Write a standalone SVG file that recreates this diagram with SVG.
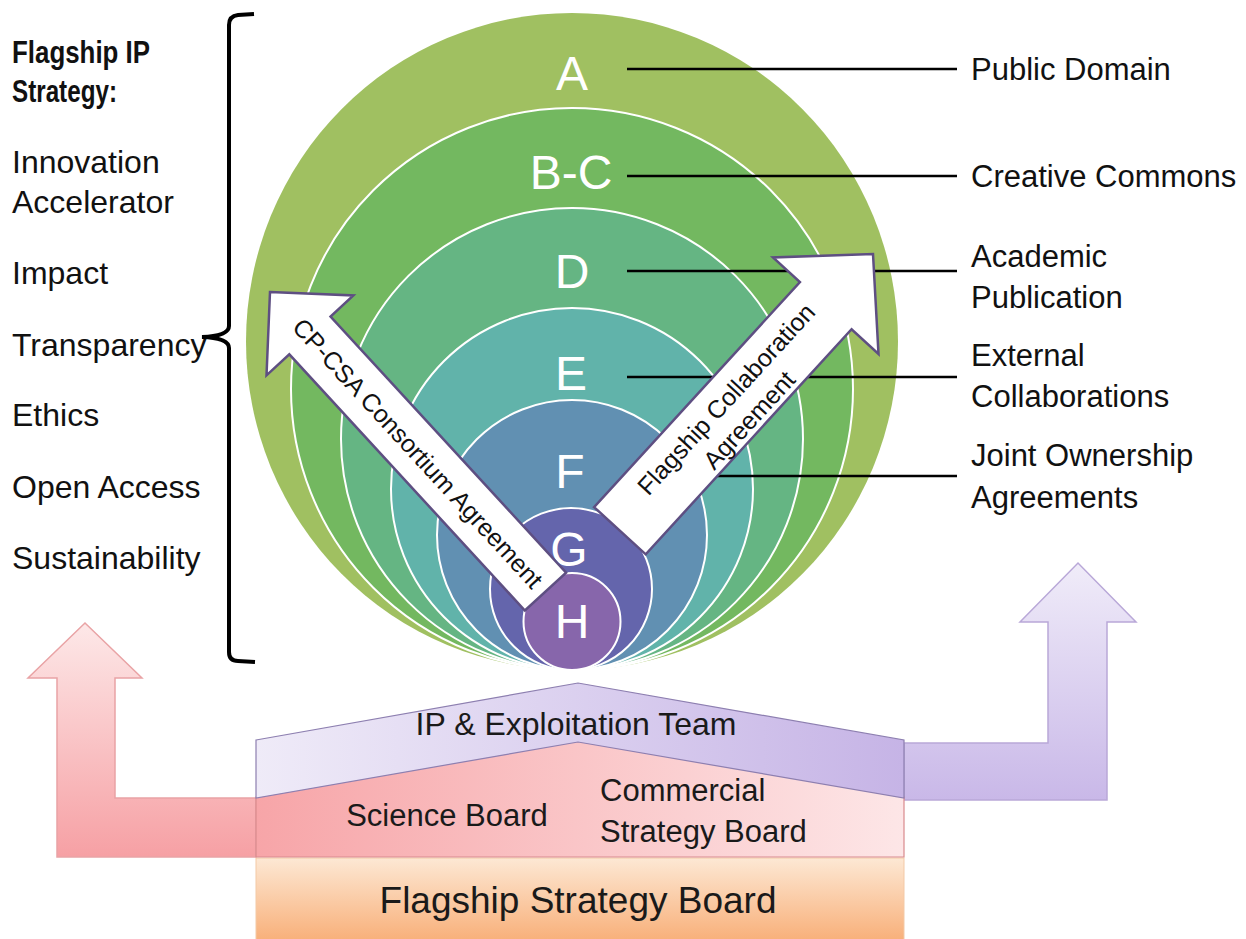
<svg xmlns="http://www.w3.org/2000/svg" width="1246" height="939" viewBox="0 0 1246 939">
<defs>
<linearGradient id="gPinkArrow" x1="0" y1="0" x2="0" y2="1"><stop offset="0" stop-color="#fde8e8"/><stop offset="1" stop-color="#f6a0a4"/></linearGradient>
<linearGradient id="gPurpleArrow" x1="0" y1="0" x2="0" y2="1"><stop offset="0" stop-color="#f0ecf9"/><stop offset="1" stop-color="#c9b8e8"/></linearGradient>
<linearGradient id="gPinkBoard" x1="0" y1="0" x2="1" y2="0"><stop offset="0" stop-color="#f7a5a8"/><stop offset="1" stop-color="#fde6e7"/></linearGradient>
<linearGradient id="gPurpleBand" x1="0" y1="0" x2="1" y2="0"><stop offset="0" stop-color="#efebf8"/><stop offset="1" stop-color="#c6b4e6"/></linearGradient>
<linearGradient id="gOrange" x1="0" y1="0" x2="0" y2="1"><stop offset="0" stop-color="#fde8d4"/><stop offset="1" stop-color="#f8b07a"/></linearGradient>
<style>
.lbl{font-family:"Liberation Sans",Arial,sans-serif;font-size:32px;fill:#111}
.rl{font-family:"Liberation Sans",Arial,sans-serif;font-size:31px;fill:#111}
.ring{stroke:#ffffff;stroke-width:2}
.cl{font-family:"Liberation Sans",Arial,sans-serif;font-size:48px;fill:#ffffff;text-anchor:middle}
.lead{stroke:#000;stroke-width:2.5;fill:none}
.arr{fill:#ffffff;stroke:#5e4f82;stroke-width:2.5;stroke-linejoin:miter}
.at{font-family:"Liberation Sans",Arial,sans-serif;font-size:25px;fill:#111;text-anchor:middle}
.bt{font-family:"Liberation Sans",Arial,sans-serif;font-size:31px;fill:#1a1a1a}
.bt-big{font-family:"Liberation Sans",Arial,sans-serif;font-size:37px;fill:#1a1a1a;text-anchor:middle}
.bt-ip{font-family:"Liberation Sans",Arial,sans-serif;font-size:32px;fill:#1a1a1a;text-anchor:middle}
</style>
</defs>
<rect width="1246" height="939" fill="#ffffff"/>

<g id="strategy-text">
<text class="lbl" x="12" y="63" font-weight="bold" textLength="138" lengthAdjust="spacingAndGlyphs">Flagship IP</text>
<text class="lbl" x="12" y="102" font-weight="bold" textLength="105" lengthAdjust="spacingAndGlyphs">Strategy:</text>
<text class="lbl" x="12" y="173">Innovation</text>
<text class="lbl" x="12" y="213">Accelerator</text>
<text class="lbl" x="12" y="284">Impact</text>
<text class="lbl" x="12" y="356">Transparency</text>
<text class="lbl" x="12" y="426">Ethics</text>
<text class="lbl" x="12" y="498">Open Access</text>
<text class="lbl" x="12" y="569">Sustainability</text>
</g>
<g id="bracket">
<path d="M254,14 L238,15 Q229,16 229,25 L229,326 Q229,336 202,337 Q229,338 229,348 L229,652 Q229,661 238,661 L255,662" fill="none" stroke="#000" stroke-width="4"/>
</g>

<g id="circles">
<ellipse id="circle-A" cx="572" cy="341.5" rx="326" ry="328.5" fill="#a0c061"/>
<circle id="circle-BC" class="ring" cx="572" cy="389" r="281" fill="#73b860"/>
<circle id="circle-D" class="ring" cx="572" cy="439" r="231" fill="#65b583"/>
<circle id="circle-E" class="ring" cx="572" cy="489" r="181" fill="#61b3aa"/>
<circle id="circle-F" class="ring" cx="572" cy="535" r="135" fill="#6190b2"/>
<circle id="circle-G" class="ring" cx="571" cy="589" r="81" fill="#6465ac"/>
<circle id="circle-H" class="ring" cx="572" cy="621.5" r="48.5" fill="#8766ab"/>
<text class="cl" x="572" y="90">A</text>
<text class="cl" x="571" y="189">B-C</text>
<text class="cl" x="572" y="288">D</text>
<text class="cl" x="571" y="390">E</text>
<text class="cl" x="570" y="488">F</text>
<text class="cl" x="569" y="566">G</text>
<text class="cl" x="572" y="638">H</text>
</g>

<g id="connectors">
<line class="lead" x1="627" y1="69" x2="957" y2="69"/>
<line class="lead" x1="627" y1="176" x2="957" y2="176"/>
<line class="lead" x1="627" y1="271" x2="957" y2="271"/>
<line class="lead" x1="627" y1="377" x2="957" y2="377"/>
<line class="lead" x1="627" y1="476" x2="957" y2="476"/>
</g>

<g id="arrow-consortium">
<polygon class="arr" transform="translate(270,292) rotate(47.4)" points="0,0 59,-59 59,-28 407,-28 407,28 59,28 59,59"/>
<text class="at" transform="translate(418,453) rotate(47.4)" y="9">CP-CSA Consortium Agreement</text>
</g>
<g id="arrow-collaboration">
<polygon class="arr" transform="translate(873,254) rotate(132.45)" points="0,0 70,-71.5 70,-35 375,-35 375,35 70,35 70,71.5"/>
<text class="at" transform="translate(737,409) rotate(-47.5)"><tspan x="0" y="-6">Flagship Collaboration</tspan><tspan x="0" y="25">Agreement</tspan></text>
</g>

<g id="right-labels">
<text class="rl" x="971" y="80">Public Domain</text>
<text class="rl" x="971" y="187">Creative Commons</text>
<text class="rl" x="971" y="267">Academic</text>
<text class="rl" x="971" y="308">Publication</text>
<text class="rl" x="971" y="366">External</text>
<text class="rl" x="971" y="407">Collaborations</text>
<text class="rl" x="971" y="466">Joint Ownership</text>
<text class="rl" x="971" y="508">Agreements</text>
</g>

<g id="pink-arrow">
<polygon points="256,798 115,798 115,678 142,678 85,623 28,678 57,678 57,857 256,857" fill="url(#gPinkArrow)" stroke="#e9a3a5" stroke-width="1.5"/>
</g>
<g id="purple-arrow">
<polygon points="904,743 1048,743 1048,622 1020,622 1078,563 1136,622 1107,622 1107,800 904,800" fill="url(#gPurpleArrow)" stroke="#b9a8d8" stroke-width="1.5"/>
</g>

<g id="flagship-strategy-board">
<rect x="256" y="858" width="648" height="82" fill="url(#gOrange)" stroke="#f3c9a6" stroke-width="1"/>
<text class="bt-big" x="578" y="913">Flagship Strategy Board</text>
</g>
<g id="boards">
<polygon points="256,797 578,741 904,797 904,857 256,857" fill="url(#gPinkBoard)" stroke="#d98a8d" stroke-width="1.2"/>
<text class="bt" x="447" y="826" text-anchor="middle">Science Board</text>
<text class="bt" x="600" y="801">Commercial</text>
<text class="bt" x="600" y="842">Strategy Board</text>
</g>
<g id="ip-team">
<polygon points="256,740 578,683 904,740 904,798 578,742 256,798" fill="url(#gPurpleBand)" stroke="#8d7fb0" stroke-width="1.2"/>
<text class="bt-ip" x="576" y="735">IP &amp; Exploitation Team</text>
</g>
</svg>
